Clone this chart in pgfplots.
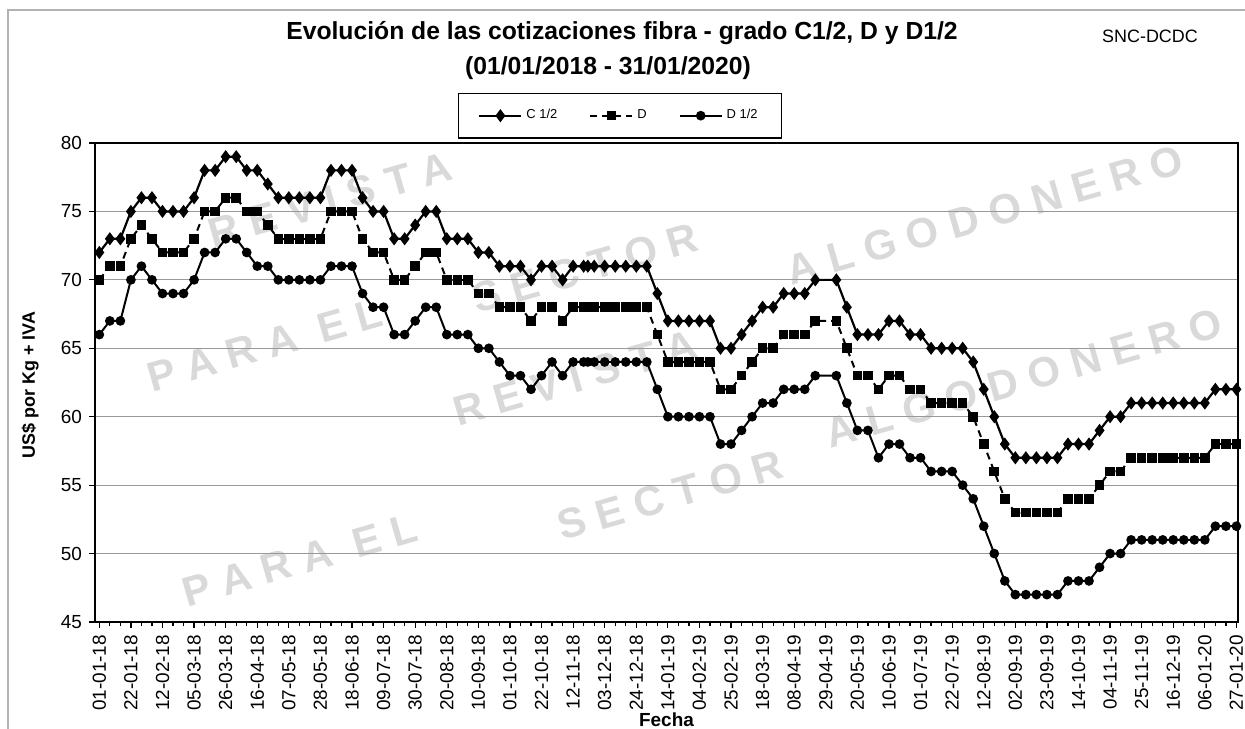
\documentclass[border=0pt]{standalone}
\usepackage{fontspec}
\setmainfont{Liberation Sans}
\newfontfamily\wmfont[LetterSpace=28,Kerning=Off]{Liberation Sans}
\usepackage{pgfplots}
\pgfplotsset{compat=1.18}
\begin{document}
\begin{tikzpicture}
\useasboundingbox (0,0) rectangle (622.5bp,364.5bp);
% chart frame (partial, light gray)
\draw[black!30, line width=0.6bp] (4bp,0) -- (4bp,359.5bp) -- (622.5bp,359.5bp);
% watermark (pixel positions converted: X=px/2, Y=(729-py)/2)
\begin{scope}[every node/.style={text=black!15, font=\wmfont\bfseries\fontsize{21}{23}\selectfont, rotate=16, inner sep=0pt}]
\node at (165bp,264.5bp) {REVISTA};
\node at (132.5bp,192bp) {PARA EL};
\node at (292.5bp,230.5bp) {SECTOR};
\node at (492.5bp,257bp) {ALGODONERO};
\node at (287.5bp,175.5bp) {REVISTA};
\node at (335bp,117bp) {SECTOR};
\node at (150bp,84.5bp) {PARA EL};
\node at (512bp,175.5bp) {ALGODONERO};
\end{scope}
\begin{axis}[
  at={(47.5bp,53.5bp)}, anchor=south west,
  scale only axis, width=571.5bp, height=239.5bp,
  xmin=-0.41, xmax=108.15, ymin=45, ymax=80,
  xtick={0,3,...,108},
  xticklabels={01-01-18,22-01-18,12-02-18,05-03-18,26-03-18,16-04-18,07-05-18,28-05-18,18-06-18,09-07-18,30-07-18,20-08-18,10-09-18,01-10-18,22-10-18,12-11-18,03-12-18,24-12-18,14-01-19,04-02-19,25-02-19,18-03-19,08-04-19,29-04-19,20-05-19,10-06-19,01-07-19,22-07-19,12-08-19,02-09-19,23-09-19,14-10-19,04-11-19,25-11-19,16-12-19,06-01-20,27-01-20},
  minor xtick={0,1,...,108},
  ytick={45,50,...,80},
  ymajorgrids, grid style={black!40, line width=0.5bp},
  tick align=outside, xtick pos=left, ytick pos=left,
  major tick length=3bp, minor tick length=2bp,
  tick style={black, line width=0.6bp},
  axis line style={black, line width=1.3bp},
  xticklabel style={rotate=90, anchor=east, font=\fontsize{9.5}{10}\selectfont},
  yticklabel style={font=\fontsize{9.5}{10}\selectfont},
  /pgf/number format/assume math mode=true,
  legend columns=3,
  legend style={at={(0.4593,1.057)}, anchor=center, draw=black, line width=0.7bp, fill=white,
    font=\fontsize{6.5}{7}\selectfont, inner xsep=10bp, inner ysep=6bp,
    /tikz/every even column/.append style={column sep=14bp}},
  legend image code/.code={\draw[mark repeat=2,mark phase=2,#1] plot coordinates {(0bp,0bp) (10.5bp,0bp) (21bp,0bp)};},
]
\addplot[black, line width=1.1bp, mark=diamond*, mark size=2.4bp, mark options={solid}] coordinates {
(0,72)(1,73)(2,73)(3,75)(4,76)(5,76)(6,75)(7,75)(8,75)(9,76)(10,78)(11,78)(12,79)(13,79)(14,78)(15,78)(16,77)(17,76)(18,76)(19,76)(20,76)(21,76)(22,78)(23,78)(24,78)(25,76)(26,75)(27,75)(28,73)(29,73)(30,74)(31,75)(32,75)(33,73)(34,73)(35,73)(36,72)(37,72)(38,71)(39,71)(40,71)(41,70)(42,71)(43,71)(44,70)(45,71)(46,71)(46.4,71)(47,71)(48,71)(49,71)(50,71)(51,71)(52,71)(53,69)(54,67)(55,67)(56,67)(57,67)(58,67)(59,65)(60,65)(61,66)(62,67)(63,68)(64,68)(65,69)(66,69)(67,69)(68,70)(70,70)(71,68)(72,66)(73,66)(74,66)(75,67)(76,67)(77,66)(78,66)(79,65)(80,65)(81,65)(82,65)(83,64)(84,62)(85,60)(86,58)(87,57)(88,57)(89,57)(90,57)(91,57)(92,58)(93,58)(94,58)(95,59)(96,60)(97,60)(98,61)(99,61)(100,61)(101,61)(102,61)(103,61)(104,61)(105,61)(106,62)(107,62)(108,62)
};
\addplot[black, line width=1bp, dash pattern=on 3.5bp off 2.5bp, mark=square*, mark size=1.9bp, mark options={solid}] coordinates {
(0,70)(1,71)(2,71)(3,73)(4,74)(5,73)(6,72)(7,72)(8,72)(9,73)(10,75)(11,75)(12,76)(13,76)(14,75)(15,75)(16,74)(17,73)(18,73)(19,73)(20,73)(21,73)(22,75)(23,75)(24,75)(25,73)(26,72)(27,72)(28,70)(29,70)(30,71)(31,72)(32,72)(33,70)(34,70)(35,70)(36,69)(37,69)(38,68)(39,68)(40,68)(41,67)(42,68)(43,68)(44,67)(45,68)(46,68)(46.4,68)(47,68)(48,68)(49,68)(50,68)(51,68)(52,68)(53,66)(54,64)(55,64)(56,64)(57,64)(58,64)(59,62)(60,62)(61,63)(62,64)(63,65)(64,65)(65,66)(66,66)(67,66)(68,67)(70,67)(71,65)(72,63)(73,63)(74,62)(75,63)(76,63)(77,62)(78,62)(79,61)(80,61)(81,61)(82,61)(83,60)(84,58)(85,56)(86,54)(87,53)(88,53)(89,53)(90,53)(91,53)(92,54)(93,54)(94,54)(95,55)(96,56)(97,56)(98,57)(99,57)(100,57)(101,57)(102,57)(103,57)(104,57)(105,57)(106,58)(107,58)(108,58)
};
\addplot[black, line width=1bp, mark=*, mark size=1.9bp] coordinates {
(0,66)(1,67)(2,67)(3,70)(4,71)(5,70)(6,69)(7,69)(8,69)(9,70)(10,72)(11,72)(12,73)(13,73)(14,72)(15,71)(16,71)(17,70)(18,70)(19,70)(20,70)(21,70)(22,71)(23,71)(24,71)(25,69)(26,68)(27,68)(28,66)(29,66)(30,67)(31,68)(32,68)(33,66)(34,66)(35,66)(36,65)(37,65)(38,64)(39,63)(40,63)(41,62)(42,63)(43,64)(44,63)(45,64)(46,64)(46.4,64)(47,64)(48,64)(49,64)(50,64)(51,64)(52,64)(53,62)(54,60)(55,60)(56,60)(57,60)(58,60)(59,58)(60,58)(61,59)(62,60)(63,61)(64,61)(65,62)(66,62)(67,62)(68,63)(70,63)(71,61)(72,59)(73,59)(74,57)(75,58)(76,58)(77,57)(78,57)(79,56)(80,56)(81,56)(82,55)(83,54)(84,52)(85,50)(86,48)(87,47)(88,47)(89,47)(90,47)(91,47)(92,48)(93,48)(94,48)(95,49)(96,50)(97,50)(98,51)(99,51)(100,51)(101,51)(102,51)(103,51)(104,51)(105,51)(106,52)(107,52)(108,52)
};
\legend{C 1/2, D, D 1/2}
\end{axis}
% titles and labels
\node[font=\bfseries\fontsize{12.4}{14}\selectfont, anchor=base] at (311bp,344.75bp) {Evolución de las cotizaciones fibra - grado C1/2, D y D1/2};
\node[font=\bfseries\fontsize{12.4}{14}\selectfont, anchor=base] at (304bp,327bp) {(01/01/2018 - 31/01/2020)};
\node[font=\fontsize{9}{10}\selectfont, anchor=base] at (575bp,343bp) {SNC-DCDC};
\node[font=\bfseries\fontsize{9.5}{10}\selectfont, anchor=base] at (333.25bp,1.5bp) {Fecha};
\node[font=\bfseries\fontsize{9}{10}\selectfont, rotate=90] at (15bp,172bp) {US\$ por Kg + IVA};
\end{tikzpicture}
\end{document}
